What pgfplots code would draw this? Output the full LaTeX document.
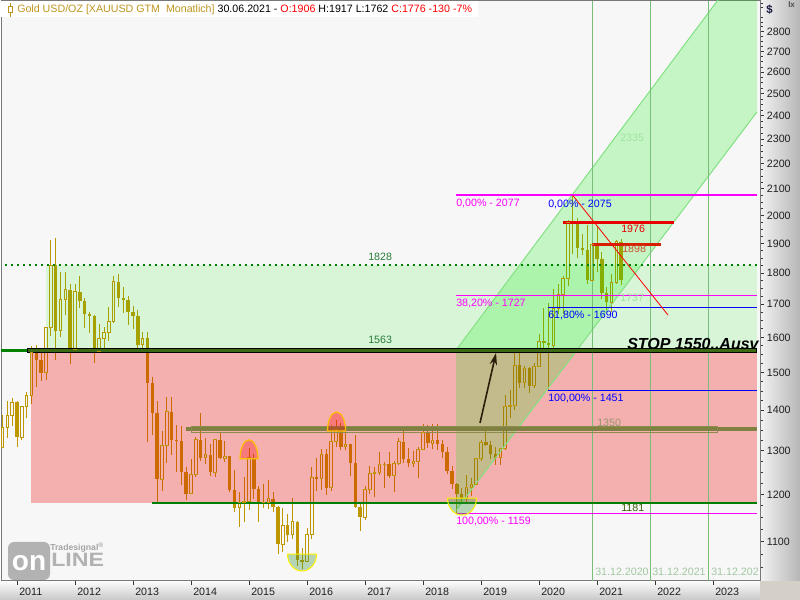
\documentclass[border=0pt]{standalone}
\usepackage{fontspec}
\setmainfont{Liberation Sans}
\usepackage{pgfplots}
\usepackage{pgfplotstable}
\pgfplotsset{compat=1.18}
\usetikzlibrary{arrows.meta}

\definecolor{bgc}{RGB}{247,247,247}
\definecolor{candle}{RGB}{190,150,0}
\definecolor{zred}{RGB}{240,0,0}
\definecolor{zgreen}{RGB}{0,235,0}
\definecolor{chan}{RGB}{0,237,0}
\definecolor{chanedge}{RGB}{130,225,130}
\definecolor{dkgreen}{RGB}{0,128,0}
\definecolor{bargreen}{RGB}{60,105,20}
\definecolor{olivebar}{RGB}{128,128,64}
\definecolor{oliveline}{RGB}{140,140,80}
\definecolor{fibm}{RGB}{255,0,255}
\definecolor{fibb}{RGB}{0,0,255}
\definecolor{vgreen}{RGB}{120,190,120}
\definecolor{titlegold}{RGB}{190,150,30}
\definecolor{red1976}{RGB}{230,0,0}
\definecolor{red1898}{RGB}{215,30,0}
\definecolor{txt1898}{RGB}{200,80,40}
\definecolor{lightg}{RGB}{160,228,160}
\definecolor{datetxt}{RGB}{160,200,160}
\definecolor{lbl1350}{RGB}{150,150,110}
\definecolor{lbl1181}{RGB}{60,95,10}
\definecolor{lblgreen}{RGB}{40,125,55}
\definecolor{domeedge}{RGB}{255,190,0}
\definecolor{domegreen}{RGB}{60,150,60}
\definecolor{arrowc}{RGB}{40,30,10}
\definecolor{logogrey}{RGB}{178,178,178}
\definecolor{logotxt}{RGB}{165,165,165}
\definecolor{frame}{RGB}{120,120,120}
\definecolor{stripA}{RGB}{252,252,252}
\definecolor{stripB}{RGB}{200,200,200}
\definecolor{stripC}{RGB}{242,242,242}
\definecolor{stripD}{RGB}{182,182,182}
\definecolor{corner}{RGB}{212,208,200}
\definecolor{dollar}{RGB}{20,20,60}

% dome shaped markers for the highs and lows
\pgfdeclareplotmark{domeup}{%
  \pgfpathmoveto{\pgfqpoint{-6.75pt}{0pt}}%
  \pgfpatharc{180}{0}{6.75pt and 14.25pt}%
  \pgfpathclose
  \pgfusepathqfillstroke}
\pgfdeclareplotmark{domedown}{%
  \pgfpathmoveto{\pgfqpoint{-10.9pt}{0pt}}%
  \pgfpatharc{180}{360}{10.9pt and 12.75pt}%
  \pgfpathclose
  \pgfusepathqfillstroke}

% monthly candles, close >= open
\pgfplotstableread{
t o h l c
2010.750 1307 1388 1306 1357
2010.833 1357 1424 1330 1386
2010.917 1386 1432 1360 1421
2011.083 1332 1411 1325 1409
2011.167 1409 1447 1381 1439
2011.250 1439 1575 1417 1556
2011.500 1500 1632 1479 1628
2011.583 1628 1913 1604 1826
2011.750 1620 1803 1600 1714
2011.833 1714 1804 1668 1746
2012.000 1565 1764 1563 1739
2012.417 1560 1641 1556 1598
2012.500 1598 1631 1564 1614
2012.583 1614 1692 1589 1648
2012.667 1648 1789 1644 1772
2013.167 1578 1617 1562 1597
2013.500 1234 1348 1208 1313
2013.583 1313 1434 1271 1396
2014.000 1202 1280 1202 1244
2014.083 1244 1332 1238 1326
2014.250 1284 1331 1268 1291
2014.417 1250 1325 1240 1327
2014.583 1282 1324 1273 1287
2014.833 1171 1206 1131 1182
2014.917 1182 1238 1142 1184
2015.000 1184 1307 1167 1283
2015.250 1183 1224 1170 1183
2015.333 1183 1232 1168 1191
2015.583 1095 1170 1080 1134
2015.750 1115 1192 1107 1142
2016.000 1061 1128 1061 1116
2016.083 1116 1263 1107 1238
2016.250 1235 1304 1209 1292
2016.417 1215 1362 1208 1322
2016.500 1322 1375 1310 1351
2016.667 1309 1352 1302 1315
2017.000 1151 1219 1146 1211
2017.083 1211 1264 1201 1248
2017.167 1248 1262 1194 1249
2017.250 1249 1296 1244 1268
2017.333 1268 1274 1214 1268
2017.500 1242 1275 1205 1269
2017.583 1269 1331 1267 1322
2017.833 1270 1299 1263 1275
2017.917 1275 1309 1236 1303
2018.000 1303 1366 1302 1345
2018.167 1318 1365 1303 1325
2018.750 1192 1243 1183 1215
2018.833 1215 1237 1196 1222
2018.917 1222 1284 1221 1282
2019.000 1282 1326 1277 1321
2019.333 1284 1306 1266 1305
2019.417 1305 1439 1301 1409
2019.500 1409 1453 1381 1413
2019.583 1413 1555 1400 1520
2019.750 1472 1517 1459 1512
2019.917 1464 1526 1459 1517
2020.000 1517 1611 1517 1589
2020.250 1577 1748 1568 1686
2020.333 1686 1765 1670 1730
2020.417 1730 1789 1671 1781
2020.500 1781 1984 1757 1975
2020.917 1776 1906 1764 1898
2021.250 1707 1798 1677 1769
2021.333 1769 1913 1766 1906
}\upc

% monthly candles, close < open
\pgfplotstableread{
t o h l c
2011.000 1421 1424 1309 1332
2011.333 1556 1577 1462 1536
2011.417 1536 1556 1478 1500
2011.667 1826 1921 1535 1620
2011.917 1746 1764 1523 1565
2012.083 1739 1792 1688 1710
2012.167 1710 1719 1627 1669
2012.250 1669 1677 1614 1664
2012.333 1664 1667 1527 1560
2012.750 1772 1796 1692 1719
2012.833 1719 1754 1673 1712
2012.917 1712 1725 1636 1675
2013.000 1675 1695 1626 1663
2013.083 1663 1681 1555 1578
2013.250 1597 1617 1321 1472
2013.333 1472 1487 1338 1393
2013.417 1393 1424 1180 1234
2013.667 1396 1434 1290 1327
2013.750 1327 1362 1251 1323
2013.833 1323 1361 1221 1250
2013.917 1250 1262 1187 1202
2014.167 1326 1392 1277 1284
2014.333 1291 1315 1241 1250
2014.500 1327 1345 1281 1282
2014.667 1287 1288 1205 1210
2014.750 1210 1255 1161 1171
2015.083 1283 1292 1191 1213
2015.167 1213 1219 1142 1183
2015.417 1191 1205 1162 1172
2015.500 1172 1174 1077 1095
2015.667 1134 1157 1099 1115
2015.833 1142 1143 1052 1065
2015.917 1065 1088 1046 1061
2016.167 1238 1283 1208 1235
2016.333 1292 1304 1199 1215
2016.583 1351 1367 1301 1309
2016.750 1315 1317 1241 1272
2016.833 1272 1337 1171 1173
2016.917 1173 1180 1122 1151
2017.417 1268 1296 1237 1242
2017.667 1322 1357 1271 1280
2017.750 1280 1306 1261 1270
2018.083 1345 1362 1307 1318
2018.250 1325 1365 1302 1315
2018.333 1315 1326 1282 1298
2018.417 1298 1309 1245 1252
2018.500 1252 1265 1211 1224
2018.583 1224 1225 1160 1201
2018.667 1201 1214 1180 1192
2019.083 1321 1347 1311 1313
2019.167 1313 1324 1281 1292
2019.250 1292 1310 1266 1284
2019.667 1520 1557 1459 1472
2019.833 1512 1516 1445 1464
2020.083 1589 1689 1563 1585
2020.167 1585 1704 1451 1577
2020.583 1975 2075 1863 1968
2020.667 1968 1992 1849 1886
2020.750 1886 1933 1860 1878
2020.833 1878 1966 1765 1776
2021.000 1898 1959 1802 1847
2021.083 1847 1871 1717 1734
2021.167 1734 1755 1677 1707
2021.417 1906 1917 1762 1776
}\dnc

\tikzset{lbl/.style={anchor=west, inner sep=0pt, font=\fontsize{8}{9.6}\selectfont}}

\begin{document}
\begin{tikzpicture}
\path[use as bounding box] (0,0) rectangle (600pt,450pt);

% grey strips of the price and time scales
\begin{scope}[x=0.75pt,y=-0.75pt,yshift=450pt]
  \shade[top color=stripA, bottom color=stripB] (0,581) rectangle (760,600);
  \shade[left color=stripC, right color=stripD] (760,0) rectangle (800,581);
  \fill[corner] (760,581) rectangle (800,600);
\end{scope}

\begin{axis}[
    at={(0.75pt,14.25pt)}, anchor=south west,
    width=569.25pt, height=435pt, scale only axis,
    xmin=2010.7241, xmax=2023.8103,
    ymode=log, ymin=1024.2, ymax=2962.9,
    axis background/.style={fill=bgc},
    axis line style={draw=frame, line width=0.75pt},
    xtick={2011,2012,2013,2014,2015,2016,2017,2018,2019,2020,2021,2022,2023},
    xticklabels={2011,2012,2013,2014,2015,2016,2017,2018,2019,2020,2021,2022,2023},
    ytick={1100,1200,1300,1400,1500,1600,1700,1800,1900,2000,2100,2200,2300,2400,2500,2600,2700,2800},
    yticklabels={1100,1200,1300,1400,1500,1600,1700,1800,1900,2000,2100,2200,2300,2400,2500,2600,2700,2800},
    minor ytick={1050,1075,1125,1150,1175,1225,1250,1275,1325,1350,1375,1425,1450,1475,1525,1550,1575,1625,1650,1675,1725,1750,1775,1825,1850,1875,1925,1950,1975,2025,2050,2075,2125,2150,2175,2225,2250,2275,2325,2350,2375,2425,2450,2475,2525,2550,2575,2625,2650,2675,2725,2750,2775,2825,2850,2875,2925,2950},
    xtick pos=left, ytick pos=right, yticklabel pos=right,
    tick align=outside,
    major tick length=3pt, minor tick length=2.25pt,
    tick style={black!80, line width=0.75pt},
    tick label style={font=\fontsize{8}{9.6}\selectfont, text=black!88},
    xticklabel style={anchor=north west, inner sep=0pt, xshift=1.5pt, yshift=-2pt},
    yticklabel style={anchor=west, inner sep=0pt, xshift=2pt},
]

% candle wicks
\addplot[draw=none, mark=none, forget plot, error bars/.cd, y dir=plus, y explicit, error mark=none,
  error bar style={draw=candle, line width=0.75pt}]
  table[x=t, y=l, y error plus expr=\thisrow{h}-\thisrow{l}] {\upc};
\addplot[draw=none, mark=none, forget plot, error bars/.cd, y dir=plus, y explicit, error mark=none,
  error bar style={draw=candle, line width=0.75pt}]
  table[x=t, y=l, y error plus expr=\thisrow{h}-\thisrow{l}] {\dnc};

% filled bodies of falling months
\addplot[draw=none, mark=none, forget plot, error bars/.cd, y dir=plus, y explicit, error mark=none,
  error bar style={draw=candle, line width=2.6pt}]
  table[x=t, y=c, y error plus expr=\thisrow{o}-\thisrow{c}] {\dnc};

% hollow bodies of rising months
\addplot[draw=none, mark=none, forget plot, error bars/.cd, y dir=plus, y explicit, error mark=none,
  error bar style={draw=candle, line width=2.6pt}]
  table[x=t, y=o, y error plus expr=\thisrow{c}-\thisrow{o}] {\upc};
\addplot[draw=none, mark=none, forget plot, error bars/.cd, y dir=plus, y explicit, error mark=none,
  error bar style={draw=bgc, line width=1.05pt}]
  table[x=t, y=o, y error plus expr=\thisrow{c}-\thisrow{o}] {\upc};
\addplot[only marks, mark=-, mark size=1.3pt, mark options={draw=candle, line width=0.75pt}]
  table[x=t, y=o] {\upc};
\addplot[only marks, mark=-, mark size=1.3pt, mark options={draw=candle, line width=0.75pt}]
  table[x=t, y=c] {\upc};

% zones
\addplot[draw=none, fill=zred, fill opacity=0.29]
  coordinates {(2011.241,1181) (2023.759,1181) (2023.759,1563) (2011.241,1563)} -- cycle;
\addplot[draw=none, fill=zgreen, fill opacity=0.125]
  coordinates {(2011.5,1563) (2023.759,1563) (2023.759,1828) (2011.5,1828)} -- cycle;
\addplot[draw=none, fill=chan, fill opacity=0.2]
  coordinates {(2018.569,1166) (2023.759,2418) (2023.759,3266) (2018.569,1563)} -- cycle;
\addplot[chanedge, line width=0.75pt] coordinates {(2018.569,1563) (2023.759,3266)};
\addplot[chanedge, line width=0.75pt] coordinates {(2018.569,1166) (2023.759,2418)};

% year end markers
\addplot[vgreen, line width=0.75pt] coordinates {(2020.917,1024.2) (2020.917,2962.9)};
\addplot[vgreen, line width=0.75pt] coordinates {(2021.917,1024.2) (2021.917,2962.9)};
\addplot[vgreen, line width=0.75pt] coordinates {(2022.917,1024.2) (2022.917,2962.9)};

% support and resistance
\addplot[dkgreen, line width=1.5pt, dash pattern=on 1.5pt off 3pt] coordinates {(2010.793,1828) (2023.759,1828)};
\addplot[dkgreen, line width=2.25pt] coordinates {(2010.724,1563) (2011.172,1563)};
\addplot[black, line width=3.75pt] coordinates {(2011.172,1563) (2023.759,1563)};
\addplot[bargreen, line width=2.25pt] coordinates {(2011.19,1563) (2023.74,1563)};
\addplot[dkgreen, line width=1.5pt] coordinates {(2013.328,1181) (2023.759,1181)};
\addplot[olivebar, line width=3pt] coordinates {(2013.914,1352) (2023.759,1352)};
\addplot[oliveline, line width=0.75pt] coordinates {(2014.0,1344) (2023.086,1344) (2023.086,1360) (2014.0,1360)} -- cycle;

% retracements
\addplot[fibb, line width=0.75pt] coordinates {(2020.155,2075) (2023.759,2075)};
\addplot[fibm, line width=0.9pt] coordinates {(2018.569,2077) (2023.759,2077)};
\addplot[fibm, line width=0.75pt] coordinates {(2018.569,1727) (2023.759,1727)};
\addplot[fibm, line width=0.9pt] coordinates {(2018.569,1159) (2023.759,1159)};
\addplot[fibb, line width=0.75pt] coordinates {(2020.155,1690) (2023.759,1690)};
\addplot[fibb, line width=0.75pt] coordinates {(2020.155,1451) (2023.759,1451)};

% recent highs and down trend
\addplot[red1976, line width=2.25pt] coordinates {(2020.414,1976) (2022.328,1976)};
\addplot[red1898, line width=2.25pt] coordinates {(2020.914,1898) (2022.103,1898)};
\addplot[red, line width=0.6pt] coordinates {(2020.583,2075) (2022.224,1667)};

% breakout arrow
\addplot[arrowc, line width=1.2pt, -{Stealth[length=9pt, width=5.5pt]}] coordinates {(2018.983,1368) (2019.259,1555)};

% tops and bottoms
\addplot[only marks, mark=domeup, mark options={fill=red, fill opacity=0.3, draw=domeedge, line width=0.9pt}]
  coordinates {(2015.0,1281) (2016.509,1348)};
\addplot[only marks, mark=domedown, mark options={fill=domegreen, fill opacity=0.35, draw=yellow, line width=0.75pt}]
  coordinates {(2015.914,1076) (2018.672,1192)};
\end{axis}

\begin{scope}[x=0.75pt,y=-0.75pt,yshift=450pt]
  % title row
  \fill[white] (0.8,0.8) rectangle (478,17);
  \draw[titlegold, line width=0.75pt] (10,3) -- (10,17);
  \filldraw[fill=white, draw=titlegold, line width=0.75pt] (8,7) rectangle (12,13);
  \node[lbl] at (17,9.5) {\textcolor{titlegold}{Gold USD/OZ [XAUUSD GTM\ \ Monatlich]} 30.06.2021 - \textcolor{red}{O:1906} H:1917 L:1762 \textcolor{red}{C:1776 -130 -7\%}};
  \node[lbl, font=\fontsize{8.5}{10}\selectfont\bfseries, text=dollar] at (766,10) {\$};
  \node[lbl, font=\fontsize{6}{7}\selectfont\bfseries, text=black!70] at (788,5) {lx};

  % level labels
  \node[lbl, text=lblgreen] at (368,257) {1828};
  \node[lbl, text=lblgreen] at (368,340) {1563};
  \node[lbl, text=fibm] at (456,203) {0,00\% - 2077};
  \node[lbl, text=fibm] at (456,303) {38,20\% - 1727};
  \node[lbl, text=fibm] at (456,521) {100,00\% - 1159};
  \node[lbl, text=fibb] at (548,204) {0,00\% - 2075};
  \node[lbl, text=fibb] at (548,315) {61,80\% - 1690};
  \node[lbl, text=fibb] at (548,398) {100,00\% - 1451};
  \node[lbl, text=red1976] at (621,229) {1976};
  \node[lbl, text=txt1898] at (622,249) {1898};
  \node[lbl, text=lightg] at (620,298) {1737};
  \node[lbl, text=lightg] at (620,138) {2335};
  \node[lbl, text=lbl1350] at (597,423) {1350};
  \node[lbl, text=lbl1181] at (621,508) {1181};
  \node[lbl, font=\fontsize{12}{14}\selectfont\bfseries\itshape, text=black] at (627,344) {STOP 1550..Ausv};
  \node[lbl, text=datetxt] at (595,572) {31.12.2020};
  \node[lbl, text=datetxt] at (652,572) {31.12.2021};
  \node[lbl, text=datetxt] at (711,572) {31.12.202};

  % logo
  \fill[logogrey, rounded corners=4.5pt] (8,542) rectangle (50,580);
  \node[anchor=base, inner sep=0pt, font=\fontsize{21}{21}\selectfont\bfseries, text=white] at (29,570) {on};
  \node[anchor=base west, inner sep=0pt, xscale=1.2, font=\fontsize{14.5}{15}\selectfont\bfseries, text=logogrey] at (51,567) {LINE};
  \node[anchor=base west, inner sep=0pt, font=\fontsize{6.5}{7}\selectfont\bfseries, text=logotxt] at (50,551) {Tradesignal\textsuperscript{\tiny ®}};
\end{scope}
\end{tikzpicture}
\end{document}
